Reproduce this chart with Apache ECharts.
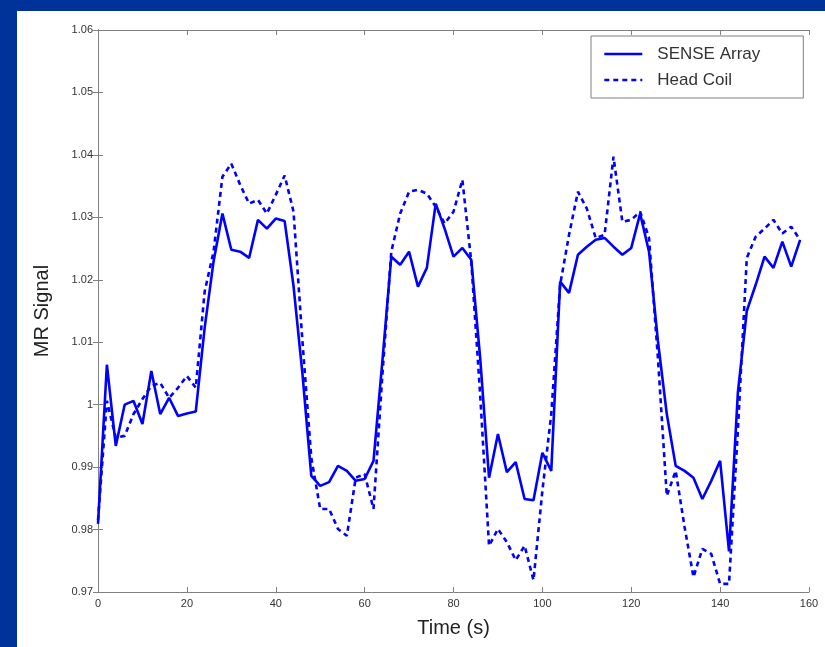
<!DOCTYPE html>
<html>
<head>
<meta charset="utf-8">
<script src="https://cdn.jsdelivr.net/npm/echarts@6/dist/echarts.min.js"></script>
<style>
  html, body { margin: 0; padding: 0; background: #00339a; }
  #panel { position: absolute; left: 17px; top: 11px; width: 808px; height: 636px; background: #fff; }
  #chart { position: absolute; left: 0; top: 0; width: 825px; height: 647px; }
</style>
</head>
<body>
<div id="panel"></div>
<div id="chart"></div>
<script>
// time axis (s)
const times = [0, 2, 4, 6, 8, 10, 12, 14, 16, 18, 20, 22, 24, 26, 28, 30, 32, 34, 36, 38,
  40, 42, 44, 46, 48, 50, 52, 54, 56, 58, 60, 62, 64, 66, 68, 70, 72, 74, 76, 78,
  80, 82, 84, 86, 88, 90, 92, 94, 96, 98, 100, 102, 104, 106, 108, 110, 112, 114, 116, 118,
  120, 122, 124, 126, 128, 130, 132, 134, 136, 138, 140, 142, 144, 146, 148, 150, 152, 154, 156, 158]

// SENSE Array (solid)
const senseArray = [0.9809, 1.0064, 0.9934, 1.0000, 1.0006, 0.9969, 1.0054, 0.9985, 1.0011, 0.9982,
  0.9986, 0.9989, 1.0123, 1.0229, 1.0306, 1.0248, 1.0245, 1.0235, 1.0296, 1.0282,
  1.0298, 1.0294, 1.0190, 1.0050, 0.9886, 0.9870, 0.9876, 0.9902, 0.9894, 0.9878,
  0.9881, 0.9910, 1.0070, 1.0237, 1.0224, 1.0245, 1.0189, 1.0219, 1.0322, 1.0282,
  1.0237, 1.0251, 1.0232, 1.0075, 0.9883, 0.9953, 0.9892, 0.9908, 0.9849, 0.9847,
  0.9923, 0.9894, 1.0197, 1.0179, 1.0240, 1.0253, 1.0264, 1.0267, 1.0253, 1.0240,
  1.0251, 1.0306, 1.0245, 1.0102, 0.9985, 0.9902, 0.9894, 0.9883, 0.9849, 0.9878,
  0.9910, 0.9765, 1.0020, 1.0150, 1.0192, 1.0237, 1.0219, 1.0261, 1.0221, 1.0264]

// Head Coil (dashed)
const headCoil = [0.9815, 1.0006, 0.9947, 0.9950, 0.9985, 1.0009, 1.0030, 1.0035, 1.0011, 1.0027,
  1.0046, 1.0027, 1.0181, 1.0245, 1.0365, 1.0386, 1.0352, 1.0322, 1.0328, 1.0306,
  1.0336, 1.0367, 1.0309, 1.0102, 0.9915, 0.9833, 0.9833, 0.9801, 0.9790, 0.9883,
  0.9889, 0.9833, 1.0048, 1.0245, 1.0306, 1.0341, 1.0344, 1.0338, 1.0317, 1.0290,
  1.0309, 1.0360, 1.0229, 1.0016, 0.9774, 0.9801, 0.9780, 0.9751, 0.9774, 0.9719,
  0.9862, 0.9985, 1.0192, 1.0272, 1.0341, 1.0314, 1.0267, 1.0272, 1.0397, 1.0293,
  1.0296, 1.0309, 1.0267, 1.0075, 0.9854, 0.9894, 0.9804, 0.9724, 0.9769, 0.9761,
  0.9713, 0.9713, 0.9960, 1.0235, 1.0269, 1.0282, 1.0296, 1.0274, 1.0285, 1.0264]

const pair = (vals) => times.map((t, i) => [t, vals[i]])

const font = "'Liberation Sans', Arial, sans-serif"
const boxLine = { show: true, lineStyle: { color: '#808080', width: 1 } }
const tick = { show: true, inside: true, length: 5, lineStyle: { color: '#808080' } }

const chart = echarts.init(document.getElementById('chart'))
chart.setOption({
  backgroundColor: 'transparent',
  animation: false,
  grid: { left: 98, right: 16, top: 30, bottom: 55 },
  legend: {
    orient: 'vertical',
    left: 591,
    top: 36,
    padding: [8, 12],
    itemGap: 6,
    itemWidth: 38,
    itemHeight: 14,
    itemStyle: { opacity: 0 },
    lineStyle: { width: 2.6 },
    backgroundColor: '#fff',
    borderColor: '#808080',
    borderWidth: 1,
    borderRadius: 0,
    textStyle: { fontFamily: font, fontSize: 17, color: '#333', lineHeight: 20, width: 134, padding: [0, 0, 0, 10] },
    data: ['SENSE Array', 'Head Coil']
  },
  xAxis: [
    {
      type: 'value', min: 0, max: 160, interval: 20,
      name: 'Time (s)', nameLocation: 'middle', nameGap: 26,
      nameTextStyle: { fontFamily: font, fontSize: 20, color: '#222' },
      axisLine: boxLine, axisTick: tick, splitLine: { show: false },
      axisLabel: { fontFamily: font, fontSize: 11, color: '#333', margin: 6 }
    },
    {
      type: 'value', min: 0, max: 160, interval: 20, position: 'top',
      axisLine: boxLine, axisTick: tick, splitLine: { show: false },
      axisLabel: { show: false }
    }
  ],
  yAxis: [
    {
      type: 'value', min: 0.97, max: 1.06, interval: 0.01,
      name: 'MR Signal', nameLocation: 'middle', nameGap: 46,
      nameTextStyle: { fontFamily: font, fontSize: 20, color: '#222' },
      axisLine: boxLine, axisTick: tick, splitLine: { show: false },
      axisLabel: {
        fontFamily: font, fontSize: 11, color: '#333', margin: 5,
        formatter: (v) => String(parseFloat(v.toFixed(2)))
      }
    },
    {
      type: 'value', min: 0.97, max: 1.06, interval: 0.01, position: 'right',
      axisLine: boxLine, axisTick: tick, splitLine: { show: false },
      axisLabel: { show: false }
    }
  ],
  series: [
    {
      name: 'SENSE Array',
      type: 'line',
      data: pair(senseArray),
      showSymbol: false,
      symbol: 'none',
      lineStyle: { color: '#0000ff', width: 2.6 },
      itemStyle: { color: '#0000ff' }
    },
    {
      name: 'Head Coil',
      type: 'line',
      data: pair(headCoil),
      showSymbol: false,
      symbol: 'none',
      lineStyle: { color: '#0000ff', width: 2.6, type: [5, 4] },
      itemStyle: { color: '#0000ff' }
    }
  ]
})
</script>
</body>
</html>
